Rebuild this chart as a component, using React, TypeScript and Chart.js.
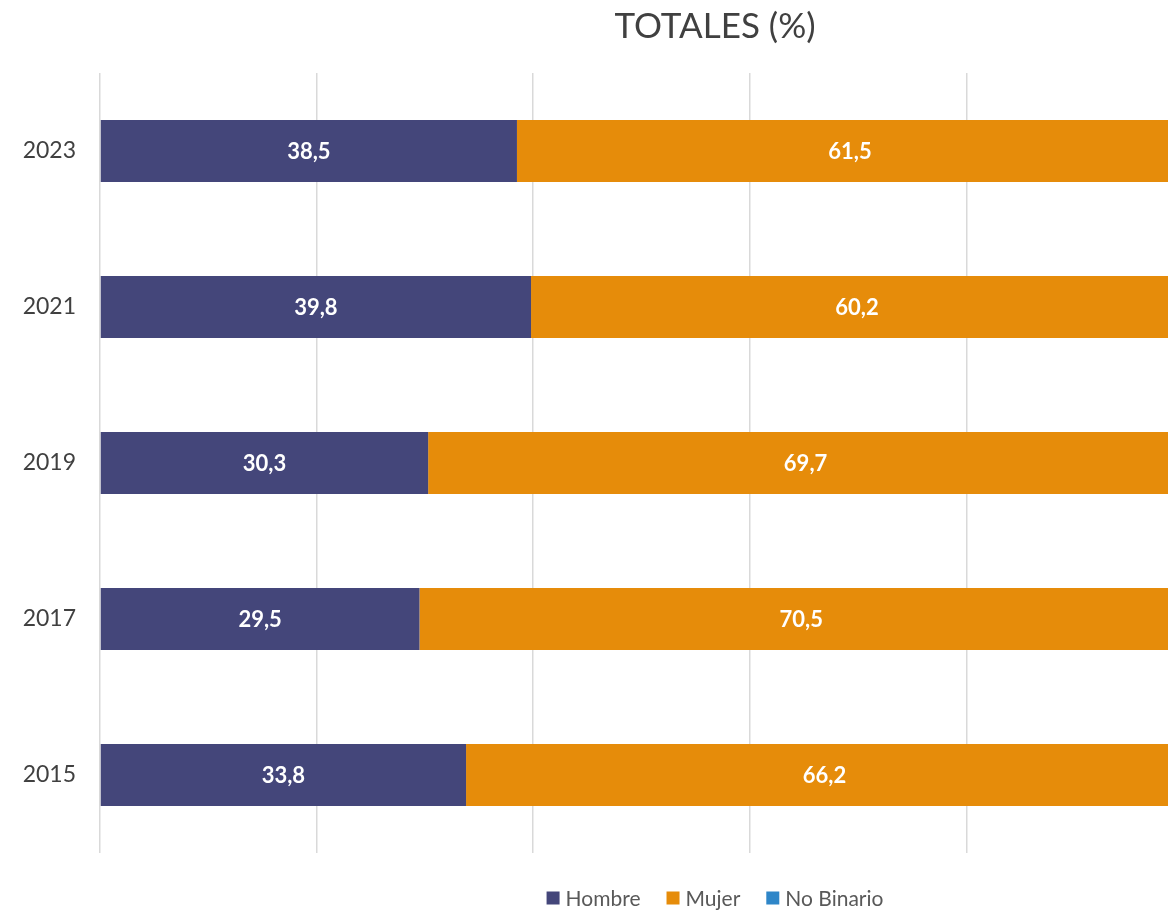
import React, { useEffect, useRef } from "react";
import { Chart, registerables } from "chart.js";

Chart.register(...registerables);

const categories = ["2023", "2021", "2019", "2017", "2015"];
const hombre = [38.5, 39.8, 30.3, 29.5, 33.8];
const mujer = [61.5, 60.2, 69.7, 70.5, 66.2];
const noBinario = [0, 0, 0, 0, 0];
const xTicks = [0, 20, 40, 60, 80, 100];
const titleText = "TOTALES (%)";

const FONT = "Lato, 'Open Sans', sans-serif";

const valueLabels = {
  id: "valueLabels",
  afterDatasetsDraw(chart: any) {
    const ctx = chart.ctx;
    ctx.save();
    ctx.font = `bold 22px ${FONT}`;
    ctx.fillStyle = "#ffffff";
    ctx.textAlign = "center";
    ctx.textBaseline = "middle";
    chart.data.datasets.forEach((ds: any, di: number) => {
      const meta = chart.getDatasetMeta(di);
      if (meta.hidden) return;
      meta.data.forEach((bar: any, i: number) => {
        const v = ds.data[i];
        if (!v) return;
        const cx = (bar.x + bar.base) / 2;
        ctx.fillText(v.toFixed(1).replace(".", ","), cx, bar.y + 1);
      });
    });
    ctx.restore();
  },
};

const titleAndLegend = {
  id: "titleAndLegend",
  afterDraw(chart: any) {
    const ctx = chart.ctx;
    ctx.save();
    // title
    ctx.font = `35px ${FONT}`;
    ctx.fillStyle = "#404040";
    ctx.textAlign = "center";
    ctx.textBaseline = "middle";
    ctx.fillText(titleText, chart.width / 2, 27);
    // legend
    ctx.font = `21px ${FONT}`;
    ctx.textAlign = "left";
    const box = 13;
    const textOff = 19;
    const gap = 26;
    const items = chart.data.datasets.map((ds: any) => ({ label: ds.label, color: ds.backgroundColor }));
    const widths = items.map((it: any) => textOff + ctx.measureText(it.label).width);
    const total = widths.reduce((a: number, b: number) => a + b, 0) + gap * (items.length - 1);
    let x = chart.width / 2 - total / 2;
    const y = 898;
    items.forEach((it: any, i: number) => {
      ctx.fillStyle = it.color;
      ctx.fillRect(x, y - box / 2, box, box);
      ctx.fillStyle = "#595959";
      ctx.fillText(it.label, x + textOff, y + 1);
      x += widths[i] + gap;
    });
    ctx.restore();
  },
};

export default function App() {
  const ref = useRef<HTMLCanvasElement>(null);
  useEffect(() => {
    if (!ref.current) return;
    const chart = new Chart(ref.current, {
      type: "bar",
      data: {
        labels: categories,
        datasets: [
          { label: "Hombre", data: hombre, backgroundColor: "#44467A" },
          { label: "Mujer", data: mujer, backgroundColor: "#E68C0A" },
          { label: "No Binario", data: noBinario, backgroundColor: "#2E86C8" },
        ],
      },
      options: {
        indexAxis: "y",
        animation: false,
        responsive: false,
        maintainAspectRatio: false,
        layout: { padding: { left: 0, right: 247, top: 73, bottom: 59 } },
        datasets: { bar: { barPercentage: 0.397, categoryPercentage: 1 } },
        scales: {
          x: {
            stacked: true,
            min: 0,
            max: 100,
            afterBuildTicks(scale: any) {
              scale.ticks = xTicks.map((v) => ({ value: v }));
            },
            afterFit(scale: any) {
              scale.height = 0;
            },
            ticks: { display: false },
            grid: { color: "#D9D9D9", lineWidth: 1.5, drawTicks: false },
            border: { display: false },
          },
          y: {
            stacked: true,
            afterFit(scale: any) {
              scale.width = 100;
            },
            ticks: { color: "#404040", font: { family: FONT, size: 23 }, padding: 24 },
            grid: { display: false, drawTicks: false },
            border: { display: false },
          },
        },
        plugins: {
          title: { display: false },
          legend: { display: false },
          tooltip: { enabled: false },
        },
      },
      plugins: [valueLabels, titleAndLegend],
    });
    return () => chart.destroy();
  }, []);
  return (
    <div style={{ position: "fixed", left: 0, top: 0, width: 1168, height: 912, overflow: "hidden", background: "#fff" }}>
      <canvas ref={ref} width={1430} height={912} style={{ display: "block", width: 1430, height: 912 }} />
    </div>
  );
}
